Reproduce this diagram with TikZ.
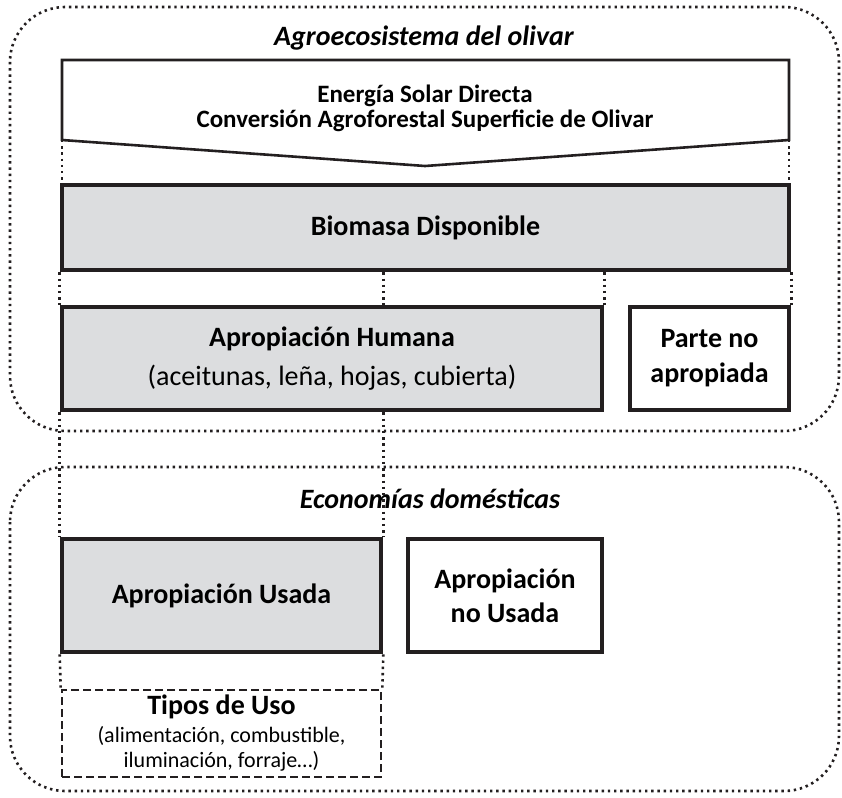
\documentclass[tikz,border=0pt]{standalone}
\usepackage{fontspec}
\setmainfont{Carlito}
\usetikzlibrary{calc}
\definecolor{boxgray}{HTML}{DCDDDF}
\definecolor{inkblack}{HTML}{231F20}

\begin{document}
\begin{tikzpicture}[x=1pt,y=-1pt,
    frame/.style={draw=inkblack,line width=2.6pt,dash pattern=on 2.4pt off 3.8pt,rounded corners=55pt},
    dotline/.style={draw=inkblack,line width=2.6pt,dash pattern=on 2.4pt off 3.8pt},
    thickbox/.style={draw=inkblack,line width=4.6pt,inner sep=0pt,align=center,font=\bfseries\fontsize{28}{34}\selectfont},
    grayfill/.style={fill=boxgray},
    dashbox/.style={draw=inkblack,line width=2.6pt,dash pattern=on 8pt off 4pt,inner sep=0pt,align=center},
    caption/.style={font=\bfseries\itshape\fontsize{28}{34}\selectfont}]
            \useasboundingbox (0,0) rectangle (842,797);

            % The two dotted frames
            \draw[frame] (10,7) rectangle (839,431);
            \draw[frame] (10,467) rectangle (839,791);
            \node[caption] (agro) at (424,38) {Agroecosistema del olivar};
            \node[caption] (econ) at (430,499) {Economías domésticas};

            % The arrow on top
            \coordinate (pl) at (62,140);
            \coordinate (pr) at (789,140);
            \draw[draw=inkblack,line width=2.6pt] (pl) -- (62,60) -- (789,60) -- (pr) -- (425,166) -- cycle;
            \node[align=center,font=\bfseries\fontsize{25}{25}\selectfont] (solar) at (425,108)
                {Energía Solar Directa\\Conversión Agroforestal Superficie de Olivar};

            % Place the boxes
            \node[thickbox,grayfill,minimum width=727pt,minimum height=85pt] (biomasa) at (425.5,227.5) {Biomasa Disponible};
            \node[thickbox,grayfill,minimum width=540pt,minimum height=103pt] (humana) at (332,358.5)
                {Apropiación Humana\\[5pt]\textmd{(aceitunas, leña, hojas, cubierta)}};
            \node[thickbox,minimum width=159pt,minimum height=103pt] (parte) at (709.5,358.5) {Parte no\\[1pt]apropiada};
            \node[thickbox,grayfill,minimum width=319pt,minimum height=113pt] (usada) at (221.5,595.5) {Apropiación Usada};
            \node[thickbox,minimum width=194pt,minimum height=113pt] (nousada) at (505,595.5) {Apropiación\\no Usada};
            \node[dashbox,minimum width=319pt,minimum height=87pt,font=\fontsize{22}{25}\selectfont] (tipos) at (221.5,733.5)
                {\textbf{\fontsize{28}{30}\selectfont Tipos de Uso}\\[3pt](alimentación, combustible,\\iluminación, forraje…)};

            % The dotted lines
            \draw[dotline] (pl) -- (pl |- biomasa.north);
            \draw[dotline] (pr) -- (pr |- biomasa.north);
            \draw[dotline] (humana.north west |- biomasa.south) -- (humana.north west);
            \draw[dotline] (usada.north east |- biomasa.south) -- (usada.north east |- humana.north);
            \draw[dotline] (humana.north east |- biomasa.south) -- (humana.north east);
            \draw[dotline] (parte.north east |- biomasa.south) -- (parte.north east);
            \draw[dotline] (usada.north west |- humana.south) -- (usada.north west);
            \draw[dotline] (usada.north east |- humana.south) -- (usada.north east);
            \draw[dotline] (usada.south west) -- (tipos.north west);
            \draw[dotline] (usada.south east) -- (tipos.north east);
        \end{tikzpicture}
\end{document}
